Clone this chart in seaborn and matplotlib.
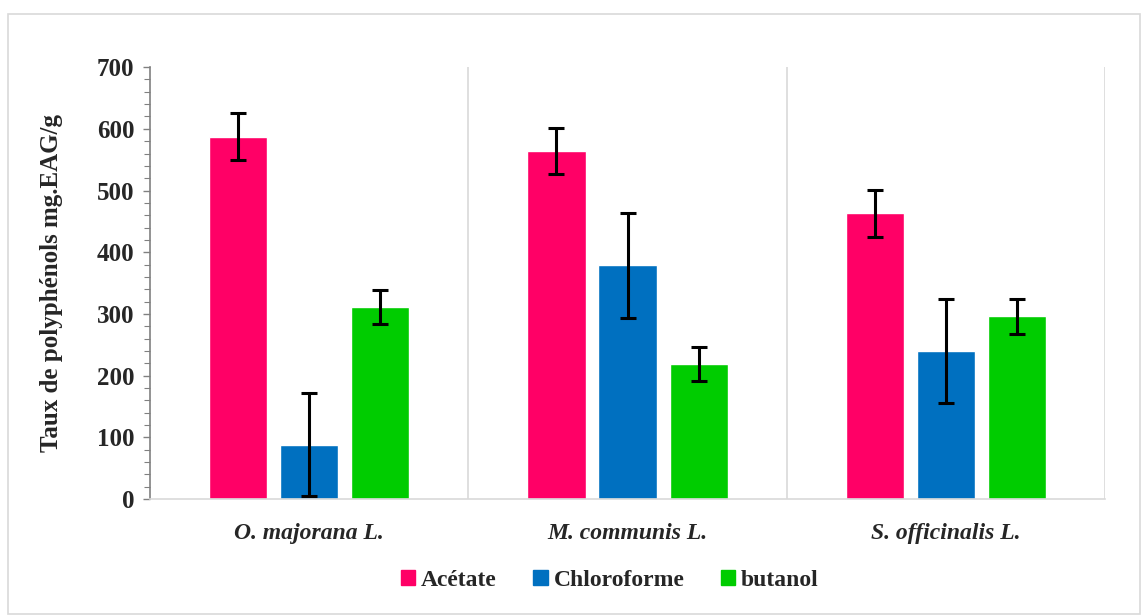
import matplotlib
matplotlib.use("Agg")
import matplotlib.pyplot as plt
import seaborn as sns
import pandas as pd
import numpy as np
from matplotlib.patches import Rectangle
from matplotlib.ticker import MultipleLocator

species = ["O. majorana L.", "M. communis L.", "S. officinalis L."]
solvents = ["Acétate", "Chloroforme", "butanol"]
acetate = [587, 564, 463]
chloroforme = [88, 379, 240]
butanol = [311, 219, 296]
err_acetate = [38, 38, 38]
err_chloroforme = [84, 85, 84]
err_butanol = [28, 28, 28]
colors = ["#FF0066", "#0070C0", "#00CC00"]

values = [acetate, chloroforme, butanol]
errors = [err_acetate, err_chloroforme, err_butanol]

df = pd.DataFrame({
    "espece": species * 3,
    "solvant": np.repeat(solvents, 3),
    "taux": acetate + chloroforme + butanol,
    "err": err_acetate + err_chloroforme + err_butanol,
})

sns.set_theme(style="white")
plt.rcParams["font.family"] = ["Liberation Serif", "DejaVu Serif"]

fig = plt.figure(figsize=(11.42, 6.16), dpi=100)
ax = fig.add_axes([0.131, 0.19, 0.837, 0.701])

sns.barplot(data=df, x="espece", y="taux", hue="solvant", order=species,
            hue_order=solvents, palette=colors, width=0.67, gap=0.18,
            errorbar=None, saturation=1, ax=ax, legend=True)

# error bars centred on each drawn bar
for container, err in zip(ax.containers, errors):
    xs = [p.get_x() + p.get_width() / 2 for p in container.patches]
    hs = [p.get_height() for p in container.patches]
    ax.errorbar(xs, hs, yerr=err, fmt="none", ecolor="black",
                elinewidth=2.2, capsize=6, capthick=2.2, zorder=5)

ax.set_ylim(0, 700)
ax.set_xlim(-0.5, 2.5)
ax.yaxis.set_major_locator(MultipleLocator(100))
ax.yaxis.set_minor_locator(MultipleLocator(20))
ax.tick_params(axis="y", which="major", direction="out", length=5,
               width=1, color="#808080", left=True, labelsize=18, pad=6)
ax.tick_params(axis="y", which="minor", direction="out", length=4,
               width=0.8, color="#808080", left=True)
ax.tick_params(axis="x", length=0, labelsize=17, pad=17)
for lab in ax.get_yticklabels():
    lab.set_fontweight("bold")
for lab in ax.get_xticklabels():
    lab.set_fontweight("bold")
    lab.set_fontstyle("italic")

for xv in [0.5, 1.5, 2.5]:
    ax.axvline(xv, color="#D9D9D9", lw=1.2, zorder=0)

for s in ["top", "right"]:
    ax.spines[s].set_visible(False)
ax.spines["left"].set_color("#808080")
ax.spines["left"].set_linewidth(1.2)
ax.spines["bottom"].set_color("#D9D9D9")
ax.spines["bottom"].set_linewidth(1.2)

ax.set_xlabel("")
ax.set_ylabel("Taux de polyphénols mg.EAG/g", fontsize=18,
              fontweight="bold", labelpad=24)

ax.get_legend().remove()
handles = [Rectangle((0, 0), 1, 1, color=c) for c in colors]
fig.legend(handles, solvents, loc="center", bbox_to_anchor=(0.534, 0.058),
           ncol=3, frameon=False, handlelength=0.6, handleheight=0.6,
           handletextpad=0.25, columnspacing=1.55,
           prop={"weight": "bold", "size": 17})

# light frame around the whole chart
fig.patches.append(Rectangle((0.007, 0.003), 0.991, 0.974,
                             transform=fig.transFigure, fill=False,
                             edgecolor="#D9D9D9", lw=1.2))

fig.savefig("out.png", dpi=100)
